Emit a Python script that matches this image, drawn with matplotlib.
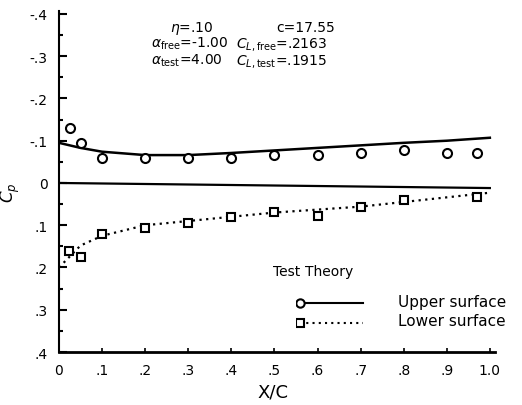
import matplotlib
matplotlib.use("Agg")
import matplotlib.pyplot as plt

# Test data, upper surface (circles)
x_upper = [0.025, 0.05, 0.1, 0.2, 0.3, 0.4, 0.5, 0.6, 0.7, 0.8, 0.9, 0.97]
cp_upper = [-0.13, -0.095, -0.06, -0.06, -0.06, -0.058, -0.067, -0.067, -0.07, -0.077, -0.07, -0.07]

# Test data, lower surface (squares)
x_lower = [0.023, 0.05, 0.1, 0.2, 0.3, 0.4, 0.5, 0.6, 0.7, 0.8, 0.97]
cp_lower = [0.16, 0.175, 0.12, 0.107, 0.095, 0.081, 0.068, 0.079, 0.058, 0.04, 0.033]

# Theory curves
x_theory = [0.0, 0.05, 0.1, 0.2, 0.3, 0.4, 0.5, 0.6, 0.7, 0.8, 0.9, 1.0]
cp_theory_upper = [-0.095, -0.083, -0.074, -0.066, -0.066, -0.071, -0.077, -0.083, -0.089, -0.095, -0.1, -0.107]
cp_theory_lower = [0.2, 0.148, 0.125, 0.1, 0.09, 0.08, 0.07, 0.063, 0.056, 0.045, 0.034, 0.023]
x_ref = [0.0, 1.0]
cp_ref = [0.0, 0.012]

xticks = [0, 0.1, 0.2, 0.3, 0.4, 0.5, 0.6, 0.7, 0.8, 0.9, 1.0]
xlabels = ["0", ".1", ".2", ".3", ".4", ".5", ".6", ".7", ".8", ".9", "1.0"]
yticks = [-0.4, -0.3, -0.2, -0.1, 0, 0.1, 0.2, 0.3, 0.4]
ylabels = ["-.4", "-.3", "-.2", "-.1", "0", ".1", ".2", ".3", ".4"]

plt.rcParams["font.family"] = "DejaVu Sans"

fig = plt.figure(figsize=(5.22, 4.06), dpi=100)
ax = fig.add_axes([0.113, 0.1305, 0.835, 0.840])

ax.plot(x_theory, cp_theory_upper, color="black", lw=1.8)
ax.plot(x_theory, cp_theory_lower, color="black", lw=1.6, ls=(0, (1, 2)))
ax.plot(x_ref, cp_ref, color="black", lw=1.6)
ax.plot(x_upper, cp_upper, "o", mfc="white", mec="black", ms=6.5, mew=1.5)
ax.plot(x_lower, cp_lower, "s", mfc="white", mec="black", ms=6, mew=1.5)

ax.set_xlim(0, 1.0116)
ax.set_ylim(0.4, -0.407)
ax.set_xticks(xticks, xlabels)
ax.set_yticks(yticks, ylabels)
ax.set_yticks([-0.35, -0.25, -0.15, -0.05, 0.05, 0.15, 0.25, 0.35], minor=True)
ax.tick_params(axis="y", direction="in", length=6, width=1.5, labelsize=10, pad=8)
ax.tick_params(axis="y", which="minor", direction="in", length=3, width=1.5)
ax.tick_params(axis="x", direction="in", length=3, width=1.2, labelsize=10, pad=8)

for side in ["top", "right"]:
    ax.spines[side].set_visible(False)
ax.spines["left"].set_linewidth(1.5)
ax.spines["bottom"].set_linewidth(2)

ax.set_xlabel("X/C", fontsize=13)
ax.xaxis.set_label_coords(0.49, -0.09)
ax.set_ylabel(r"$C_p$", fontsize=12)
ax.yaxis.set_label_coords(-0.085, 0.47)

# Run conditions
fs = 10
fig.text(0.326, 0.922, r"$\eta$=.10", fontsize=fs)
fig.text(0.530, 0.922, "c=17.55", fontsize=fs)
fig.text(0.290, 0.882, r"$\alpha_{\mathrm{free}}$=-1.00", fontsize=fs)
fig.text(0.452, 0.882, r"$C_{L,\mathrm{free}}$=.2163", fontsize=fs)
fig.text(0.290, 0.842, r"$\alpha_{\mathrm{test}}$=4.00", fontsize=fs)
fig.text(0.452, 0.842, r"$C_{L,\mathrm{test}}$=.1915", fontsize=fs)

# Key
fig.text(0.523, 0.330, "Test", fontsize=fs, va="center")
fig.text(0.585, 0.330, "Theory", fontsize=fs, va="center")
key = fig.add_axes([0.567, 0.18, 0.15, 0.09])
key.set_xlim(0, 1)
key.set_ylim(0, 1)
key.axis("off")
key.plot([0.05, 0.85], [0.78, 0.78], color="black", lw=1.5)
key.plot([0.05], [0.78], "o", mfc="white", mec="black", ms=6, mew=1.5)
key.plot([0.05, 0.85], [0.25, 0.25], color="black", lw=1.5, ls=(0, (1, 2)))
key.plot([0.05], [0.25], "s", mfc="white", mec="black", ms=5.5, mew=1.5)
fig.text(0.762, 0.254, "Upper surface", fontsize=11, va="center")
fig.text(0.762, 0.207, "Lower surface", fontsize=11, va="center")

fig.savefig("out.png", dpi=100)
